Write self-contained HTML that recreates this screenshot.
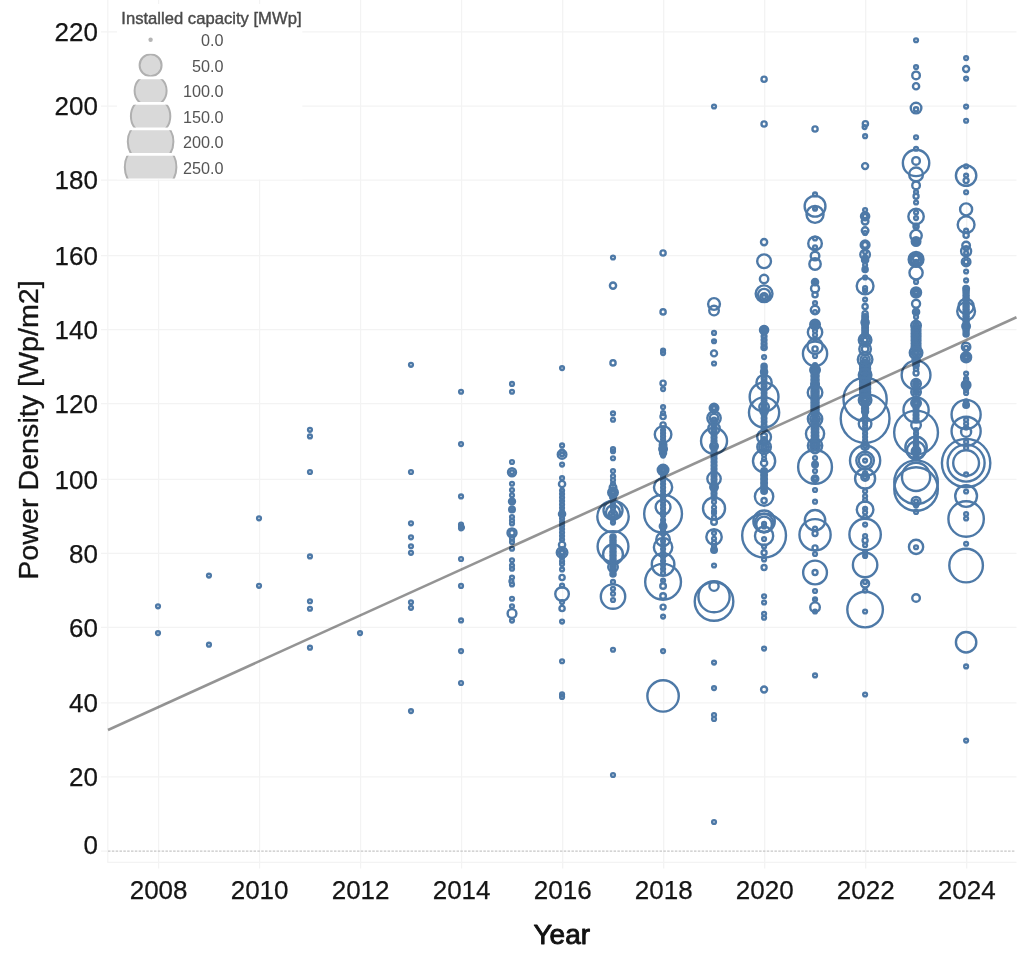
<!DOCTYPE html>
<html><head><meta charset="utf-8"><title>Power Density by Year</title>
<style>
html,body{margin:0;padding:0;background:#fff;}
body{width:1024px;height:961px;overflow:hidden;font-family:"Liberation Sans",sans-serif;}
svg{display:block}
.g{stroke:#f3f3f3;stroke-width:1.25;fill:none}
.tk{font-size:26px;fill:#151515;stroke:#151515;stroke-width:0.25px}
#marks circle{fill:none;stroke:#4e79a7;stroke-width:2.4}
.lg{font-size:16.2px;fill:#555}
</style></head><body>
<svg width="1024" height="961" viewBox="0 0 1024 961" font-family="Liberation Sans, sans-serif">
<rect width="1024" height="961" fill="#fff"/>
<g id="grid">
<line class="g" x1="101" x2="1016.5" y1="31.9" y2="31.9"/>
<line class="g" x1="101" x2="1016.5" y1="106.1" y2="106.1"/>
<line class="g" x1="101" x2="1016.5" y1="180.2" y2="180.2"/>
<line class="g" x1="101" x2="1016.5" y1="255.6" y2="255.6"/>
<line class="g" x1="101" x2="1016.5" y1="329.5" y2="329.5"/>
<line class="g" x1="101" x2="1016.5" y1="403.5" y2="403.5"/>
<line class="g" x1="101" x2="1016.5" y1="479.3" y2="479.3"/>
<line class="g" x1="101" x2="1016.5" y1="553.4" y2="553.4"/>
<line class="g" x1="101" x2="1016.5" y1="627.4" y2="627.4"/>
<line class="g" x1="101" x2="1016.5" y1="702.8" y2="702.8"/>
<line class="g" x1="101" x2="1016.5" y1="776.9" y2="776.9"/>
<line class="g" x1="158.6" x2="158.6" y1="0" y2="868.5"/>
<line class="g" x1="259.6" x2="259.6" y1="0" y2="868.5"/>
<line class="g" x1="360.6" x2="360.6" y1="0" y2="868.5"/>
<line class="g" x1="461.6" x2="461.6" y1="0" y2="868.5"/>
<line class="g" x1="562.7" x2="562.7" y1="0" y2="868.5"/>
<line class="g" x1="663.7" x2="663.7" y1="0" y2="868.5"/>
<line class="g" x1="764.7" x2="764.7" y1="0" y2="868.5"/>
<line class="g" x1="865.7" x2="865.7" y1="0" y2="868.5"/>
<line class="g" x1="966.7" x2="966.7" y1="0" y2="868.5"/>
<line class="g" x1="107.8" x2="107.8" y1="0" y2="862.3"/>
<line class="g" x1="107.3" x2="1016.5" y1="862.3" y2="862.3"/>
<line x1="101" x2="108" y1="851.1" y2="851.1" class="g"/>
<line x1="108" x2="1015" y1="851.1" y2="851.1" stroke="#c6c6c6" stroke-width="1.3" stroke-dasharray="2.5 1.33"/>
</g>
<g id="axes">
<text class="tk" x="98" y="41.1" text-anchor="end">220</text>
<text class="tk" x="98" y="115.3" text-anchor="end">200</text>
<text class="tk" x="98" y="189.4" text-anchor="end">180</text>
<text class="tk" x="98" y="264.8" text-anchor="end">160</text>
<text class="tk" x="98" y="338.7" text-anchor="end">140</text>
<text class="tk" x="98" y="412.7" text-anchor="end">120</text>
<text class="tk" x="98" y="488.5" text-anchor="end">100</text>
<text class="tk" x="98" y="562.6" text-anchor="end">80</text>
<text class="tk" x="98" y="636.6" text-anchor="end">60</text>
<text class="tk" x="98" y="712.0" text-anchor="end">40</text>
<text class="tk" x="98" y="786.1" text-anchor="end">20</text>
<text class="tk" x="98" y="854.3" text-anchor="end">0</text>
<text class="tk" x="158.6" y="898.6" text-anchor="middle">2008</text>
<text class="tk" x="259.6" y="898.6" text-anchor="middle">2010</text>
<text class="tk" x="360.6" y="898.6" text-anchor="middle">2012</text>
<text class="tk" x="461.6" y="898.6" text-anchor="middle">2014</text>
<text class="tk" x="562.7" y="898.6" text-anchor="middle">2016</text>
<text class="tk" x="663.7" y="898.6" text-anchor="middle">2018</text>
<text class="tk" x="764.7" y="898.6" text-anchor="middle">2020</text>
<text class="tk" x="865.7" y="898.6" text-anchor="middle">2022</text>
<text class="tk" x="966.7" y="898.6" text-anchor="middle">2024</text>
<text x="561.8" y="944" text-anchor="middle" font-size="28" fill="#111" stroke="#111" stroke-width="0.9" stroke-linejoin="round">Year</text>
<text transform="translate(38.2,430) rotate(-90)" text-anchor="middle" font-size="28.2" textLength="299.5" lengthAdjust="spacingAndGlyphs" fill="#151515" stroke="#151515" stroke-width="0.3">Power Density [Wp/m2]</text>
</g>
<defs><filter id="soft" x="0" y="0" width="1024" height="961" filterUnits="userSpaceOnUse"><feGaussianBlur stdDeviation="0.3"/></filter></defs>
<g id="marks" filter="url(#soft)">
<circle cx="158.0" cy="606.3" r="1.9"/>
<circle cx="158.0" cy="633.1" r="1.9"/>
<circle cx="208.96" cy="575.6" r="1.9"/>
<circle cx="208.96" cy="644.7" r="1.9"/>
<circle cx="259.01" cy="518.3" r="1.9"/>
<circle cx="259.01" cy="585.8" r="1.9"/>
<circle cx="309.97" cy="429.8" r="1.9"/>
<circle cx="309.97" cy="436.4" r="1.9"/>
<circle cx="309.97" cy="472.0" r="1.9"/>
<circle cx="309.97" cy="556.4" r="1.9"/>
<circle cx="309.97" cy="601.25" r="1.9"/>
<circle cx="309.97" cy="608.75" r="1.9"/>
<circle cx="309.97" cy="647.7" r="1.9"/>
<circle cx="360.03" cy="633.1" r="1.9"/>
<circle cx="410.99" cy="364.8" r="1.9"/>
<circle cx="410.99" cy="472.0" r="1.9"/>
<circle cx="410.99" cy="523.3" r="1.9"/>
<circle cx="410.99" cy="537.3" r="1.9"/>
<circle cx="410.99" cy="546.25" r="1.9"/>
<circle cx="410.99" cy="552.8" r="1.9"/>
<circle cx="410.99" cy="602.3" r="1.9"/>
<circle cx="410.99" cy="607.8" r="1.9"/>
<circle cx="410.99" cy="711.1" r="1.9"/>
<circle cx="461.04" cy="391.75" r="1.9"/>
<circle cx="461.04" cy="444.1" r="1.9"/>
<circle cx="461.04" cy="496.4" r="1.9"/>
<circle cx="461.04" cy="524.5" r="1.9"/>
<circle cx="461.04" cy="526.5" r="1.9"/>
<circle cx="461.94" cy="527.5" r="1.9"/>
<circle cx="461.04" cy="528.3" r="1.9"/>
<circle cx="461.04" cy="559" r="1.9"/>
<circle cx="461.04" cy="585.9" r="1.9"/>
<circle cx="461.04" cy="620.4" r="1.9"/>
<circle cx="461.04" cy="651.1" r="1.9"/>
<circle cx="461.04" cy="683" r="1.9"/>
<circle cx="512.0" cy="383.9" r="1.9"/>
<circle cx="512.0" cy="391.75" r="1.9"/>
<circle cx="512.0" cy="462" r="1.9"/>
<circle cx="512.0" cy="472.25" r="1.9"/>
<circle cx="512.0" cy="472.25" r="4.0"/>
<circle cx="512.0" cy="483.75" r="1.9"/>
<circle cx="512.0" cy="490" r="1.9"/>
<circle cx="512.0" cy="495.25" r="1.9"/>
<circle cx="512.0" cy="501.5" r="3.0"/>
<circle cx="512.0" cy="501.5" r="1.2"/>
<circle cx="512.0" cy="509.4" r="2.8"/>
<circle cx="512.0" cy="509.4" r="1"/>
<circle cx="512.0" cy="517" r="1.9"/>
<circle cx="512.0" cy="520.5" r="1.9"/>
<circle cx="512.0" cy="523.5" r="1.9"/>
<circle cx="512.0" cy="532.9" r="4.5"/>
<circle cx="512.0" cy="532.9" r="2.6"/>
<circle cx="512.0" cy="538.75" r="1.9"/>
<circle cx="512.0" cy="541.9" r="1.9"/>
<circle cx="512.0" cy="548.75" r="1.9"/>
<circle cx="512.0" cy="560.25" r="1.9"/>
<circle cx="512.0" cy="565.6" r="1.9"/>
<circle cx="512.0" cy="568.75" r="1.9"/>
<circle cx="512.0" cy="577.5" r="1.9"/>
<circle cx="511.4" cy="581.25" r="1.9"/>
<circle cx="512.0" cy="584.4" r="1.9"/>
<circle cx="512.0" cy="598.75" r="1.9"/>
<circle cx="512.0" cy="606.25" r="1.9"/>
<circle cx="512.0" cy="613.5" r="4.4"/>
<circle cx="512.0" cy="620.6" r="1.9"/>
<circle cx="562.06" cy="368.1" r="1.9"/>
<circle cx="562.06" cy="445.4" r="1.9"/>
<circle cx="562.06" cy="451.25" r="1.9"/>
<circle cx="562.06" cy="454.4" r="4.3"/>
<circle cx="562.06" cy="454.4" r="1.9"/>
<circle cx="562.06" cy="464.6" r="1.9"/>
<circle cx="562.06" cy="478.1" r="1.9"/>
<circle cx="562.06" cy="484" r="3.1"/>
<circle cx="562.06" cy="490.6" r="1.9"/>
<circle cx="562.06" cy="490.6" r="0.9"/>
<circle cx="562.06" cy="494.1" r="1.9"/>
<circle cx="562.06" cy="494.1" r="0.9"/>
<circle cx="562.06" cy="497.6" r="1.9"/>
<circle cx="562.06" cy="497.6" r="0.9"/>
<circle cx="562.06" cy="501.1" r="1.9"/>
<circle cx="562.06" cy="501.1" r="0.9"/>
<circle cx="562.06" cy="504.6" r="1.9"/>
<circle cx="562.06" cy="504.6" r="0.9"/>
<circle cx="562.06" cy="508.1" r="1.9"/>
<circle cx="562.06" cy="508.1" r="0.9"/>
<circle cx="562.06" cy="511.6" r="1.9"/>
<circle cx="562.06" cy="511.6" r="0.9"/>
<circle cx="562.06" cy="515.1" r="1.9"/>
<circle cx="562.06" cy="515.1" r="0.9"/>
<circle cx="562.06" cy="518.6" r="1.9"/>
<circle cx="562.06" cy="518.6" r="0.9"/>
<circle cx="562.06" cy="522.1" r="1.9"/>
<circle cx="562.06" cy="522.1" r="0.9"/>
<circle cx="562.06" cy="525.6" r="1.9"/>
<circle cx="562.06" cy="525.6" r="0.9"/>
<circle cx="562.06" cy="529.1" r="1.9"/>
<circle cx="562.06" cy="529.1" r="0.9"/>
<circle cx="562.06" cy="532.6" r="1.9"/>
<circle cx="562.06" cy="532.6" r="0.9"/>
<circle cx="562.06" cy="536.1" r="1.9"/>
<circle cx="562.06" cy="536.1" r="0.9"/>
<circle cx="562.06" cy="539.6" r="1.9"/>
<circle cx="562.06" cy="539.6" r="0.9"/>
<circle cx="562.06" cy="514" r="3.1"/>
<circle cx="562.06" cy="544.75" r="3.1"/>
<circle cx="562.06" cy="552.5" r="5.3"/>
<circle cx="562.06" cy="552.5" r="3.3"/>
<circle cx="562.06" cy="552.5" r="1.9"/>
<circle cx="562.06" cy="557.5" r="1.9"/>
<circle cx="562.06" cy="561.25" r="1.9"/>
<circle cx="562.06" cy="564" r="1.9"/>
<circle cx="562.06" cy="569.4" r="1.9"/>
<circle cx="562.06" cy="577.5" r="2.6"/>
<circle cx="562.06" cy="585.6" r="1.9"/>
<circle cx="562.06" cy="594" r="6.8"/>
<circle cx="562.06" cy="602" r="1.9"/>
<circle cx="562.06" cy="608.5" r="2.6"/>
<circle cx="562.06" cy="621.6" r="1.9"/>
<circle cx="562.06" cy="661.25" r="1.9"/>
<circle cx="562.06" cy="694.4" r="1.9"/>
<circle cx="562.06" cy="696.9" r="1.9"/>
<circle cx="613.01" cy="257.5" r="1.9"/>
<circle cx="613.01" cy="285.6" r="3.1"/>
<circle cx="613.01" cy="362.9" r="2.6"/>
<circle cx="613.01" cy="413.4" r="1.9"/>
<circle cx="613.01" cy="419.75" r="1.9"/>
<circle cx="613.01" cy="449" r="1.9"/>
<circle cx="613.01" cy="451.25" r="1.9"/>
<circle cx="613.01" cy="458.25" r="1.9"/>
<circle cx="613.01" cy="471" r="1.9"/>
<circle cx="613.01" cy="476.25" r="1.9"/>
<circle cx="613.01" cy="480" r="1.9"/>
<circle cx="613.01" cy="483.75" r="1.9"/>
<circle cx="613.01" cy="487.5" r="3.3"/>
<circle cx="613.01" cy="492.5" r="4.8"/>
<circle cx="613.01" cy="492.5" r="3.1"/>
<circle cx="613.01" cy="492.5" r="1.5"/>
<circle cx="613.01" cy="497" r="2.8"/>
<circle cx="613.01" cy="516.6" r="15.7"/>
<circle cx="613.01" cy="510.3" r="9.5"/>
<circle cx="613.01" cy="512.3" r="7.0"/>
<circle cx="613.01" cy="514.5" r="4.2"/>
<circle cx="613.01" cy="501" r="1.9"/>
<circle cx="613.01" cy="501" r="0.9"/>
<circle cx="613.01" cy="504.6" r="1.9"/>
<circle cx="613.01" cy="504.6" r="0.9"/>
<circle cx="613.01" cy="508.2" r="1.9"/>
<circle cx="613.01" cy="508.2" r="0.9"/>
<circle cx="613.01" cy="511.8" r="1.9"/>
<circle cx="613.01" cy="511.8" r="0.9"/>
<circle cx="613.01" cy="515.4" r="1.9"/>
<circle cx="613.01" cy="515.4" r="0.9"/>
<circle cx="613.01" cy="519.0" r="1.9"/>
<circle cx="613.01" cy="519.0" r="0.9"/>
<circle cx="613.01" cy="522.6" r="1.9"/>
<circle cx="613.01" cy="522.6" r="0.9"/>
<circle cx="613.01" cy="546.5" r="15.4"/>
<circle cx="613.01" cy="554.4" r="9.9"/>
<circle cx="613.01" cy="566.9" r="4.8"/>
<circle cx="613.01" cy="537" r="2.6"/>
<circle cx="613.01" cy="537" r="1.3"/>
<circle cx="613.01" cy="540.7" r="2.6"/>
<circle cx="613.01" cy="540.7" r="1.3"/>
<circle cx="613.01" cy="544.4" r="2.6"/>
<circle cx="613.01" cy="544.4" r="1.3"/>
<circle cx="613.01" cy="548.1" r="2.6"/>
<circle cx="613.01" cy="548.1" r="1.3"/>
<circle cx="613.01" cy="551.8" r="2.6"/>
<circle cx="613.01" cy="551.8" r="1.3"/>
<circle cx="613.01" cy="555.5" r="2.6"/>
<circle cx="613.01" cy="555.5" r="1.3"/>
<circle cx="613.01" cy="559.2" r="2.6"/>
<circle cx="613.01" cy="559.2" r="1.3"/>
<circle cx="613.01" cy="562.9" r="2.6"/>
<circle cx="613.01" cy="562.9" r="1.3"/>
<circle cx="613.01" cy="566.6" r="2.6"/>
<circle cx="613.01" cy="566.6" r="1.3"/>
<circle cx="613.01" cy="570.3" r="2.6"/>
<circle cx="613.01" cy="570.3" r="1.3"/>
<circle cx="613.01" cy="574.0" r="2.6"/>
<circle cx="613.01" cy="574.0" r="1.3"/>
<circle cx="613.01" cy="581.9" r="1.9"/>
<circle cx="613.01" cy="596.6" r="12.2"/>
<circle cx="613.01" cy="588.75" r="1.9"/>
<circle cx="613.01" cy="593.75" r="1.9"/>
<circle cx="613.01" cy="600" r="1.9"/>
<circle cx="613.01" cy="649.75" r="1.9"/>
<circle cx="613.01" cy="775" r="1.9"/>
<circle cx="663.07" cy="253" r="2.6"/>
<circle cx="663.07" cy="311.9" r="2.6"/>
<circle cx="663.07" cy="350.6" r="1.9"/>
<circle cx="663.07" cy="353.1" r="1.9"/>
<circle cx="663.07" cy="383.25" r="2.6"/>
<circle cx="663.07" cy="389.1" r="1.9"/>
<circle cx="663.07" cy="407.1" r="1.9"/>
<circle cx="663.07" cy="413.1" r="1.9"/>
<circle cx="663.07" cy="416.5" r="2.6"/>
<circle cx="663.07" cy="425" r="2.6"/>
<circle cx="663.07" cy="434.4" r="8.3"/>
<circle cx="663.07" cy="430" r="1.9"/>
<circle cx="663.07" cy="430" r="0.9"/>
<circle cx="663.07" cy="433.2" r="1.9"/>
<circle cx="663.07" cy="433.2" r="0.9"/>
<circle cx="663.07" cy="436.4" r="1.9"/>
<circle cx="663.07" cy="436.4" r="0.9"/>
<circle cx="663.07" cy="439.6" r="1.9"/>
<circle cx="663.07" cy="439.6" r="0.9"/>
<circle cx="663.07" cy="442.8" r="1.9"/>
<circle cx="663.07" cy="442.8" r="0.9"/>
<circle cx="663.07" cy="446.0" r="1.9"/>
<circle cx="663.07" cy="446.0" r="0.9"/>
<circle cx="663.07" cy="449.2" r="1.9"/>
<circle cx="663.07" cy="449.2" r="0.9"/>
<circle cx="663.07" cy="452.4" r="1.9"/>
<circle cx="663.07" cy="452.4" r="0.9"/>
<circle cx="663.07" cy="455.6" r="1.9"/>
<circle cx="663.07" cy="455.6" r="0.9"/>
<circle cx="663.07" cy="445" r="3.3"/>
<circle cx="663.07" cy="449" r="3.8"/>
<circle cx="663.07" cy="453" r="3.0"/>
<circle cx="663.07" cy="470" r="5.3"/>
<circle cx="663.07" cy="470" r="3.8"/>
<circle cx="663.07" cy="470" r="2.3"/>
<circle cx="663.07" cy="470" r="1"/>
<circle cx="663.07" cy="487.25" r="9.1"/>
<circle cx="663.07" cy="513.75" r="18.9"/>
<circle cx="663.07" cy="507.1" r="7.4"/>
<circle cx="663.07" cy="477" r="1.9"/>
<circle cx="663.07" cy="477" r="0.9"/>
<circle cx="663.07" cy="480.5" r="1.9"/>
<circle cx="663.07" cy="480.5" r="0.9"/>
<circle cx="663.07" cy="484.0" r="1.9"/>
<circle cx="663.07" cy="484.0" r="0.9"/>
<circle cx="663.07" cy="487.5" r="1.9"/>
<circle cx="663.07" cy="487.5" r="0.9"/>
<circle cx="663.07" cy="491.0" r="1.9"/>
<circle cx="663.07" cy="491.0" r="0.9"/>
<circle cx="663.07" cy="494.5" r="1.9"/>
<circle cx="663.07" cy="494.5" r="0.9"/>
<circle cx="663.07" cy="498.0" r="1.9"/>
<circle cx="663.07" cy="498.0" r="0.9"/>
<circle cx="663.07" cy="501.5" r="1.9"/>
<circle cx="663.07" cy="501.5" r="0.9"/>
<circle cx="663.07" cy="505.0" r="1.9"/>
<circle cx="663.07" cy="505.0" r="0.9"/>
<circle cx="663.07" cy="508.5" r="1.9"/>
<circle cx="663.07" cy="508.5" r="0.9"/>
<circle cx="663.07" cy="512.0" r="1.9"/>
<circle cx="663.07" cy="512.0" r="0.9"/>
<circle cx="663.07" cy="515.5" r="1.9"/>
<circle cx="663.07" cy="515.5" r="0.9"/>
<circle cx="663.07" cy="526.25" r="3.3"/>
<circle cx="663.07" cy="520" r="1.9"/>
<circle cx="663.07" cy="520" r="0.9"/>
<circle cx="663.07" cy="523.5" r="1.9"/>
<circle cx="663.07" cy="523.5" r="0.9"/>
<circle cx="663.07" cy="527.0" r="1.9"/>
<circle cx="663.07" cy="527.0" r="0.9"/>
<circle cx="663.07" cy="530.5" r="1.9"/>
<circle cx="663.07" cy="530.5" r="0.9"/>
<circle cx="663.07" cy="534.0" r="1.9"/>
<circle cx="663.07" cy="534.0" r="0.9"/>
<circle cx="663.07" cy="539.4" r="6.8"/>
<circle cx="663.07" cy="547.25" r="9.2"/>
<circle cx="663.07" cy="564.4" r="11.3"/>
<circle cx="663.07" cy="581.8" r="17.9"/>
<circle cx="663.07" cy="541" r="1.9"/>
<circle cx="663.07" cy="541" r="0.9"/>
<circle cx="663.07" cy="545" r="1.9"/>
<circle cx="663.07" cy="545" r="0.9"/>
<circle cx="663.07" cy="549" r="1.9"/>
<circle cx="663.07" cy="549" r="0.9"/>
<circle cx="663.07" cy="553" r="1.9"/>
<circle cx="663.07" cy="553" r="0.9"/>
<circle cx="663.07" cy="557" r="1.9"/>
<circle cx="663.07" cy="557" r="0.9"/>
<circle cx="663.07" cy="561" r="1.9"/>
<circle cx="663.07" cy="561" r="0.9"/>
<circle cx="663.07" cy="565" r="1.9"/>
<circle cx="663.07" cy="565" r="0.9"/>
<circle cx="663.07" cy="569" r="1.9"/>
<circle cx="663.07" cy="569" r="0.9"/>
<circle cx="663.07" cy="573.1" r="1.9"/>
<circle cx="663.07" cy="580.6" r="1.9"/>
<circle cx="663.07" cy="580.6" r="0.8"/>
<circle cx="663.07" cy="586" r="2.8"/>
<circle cx="663.07" cy="596" r="2.8"/>
<circle cx="663.07" cy="607.1" r="2.5"/>
<circle cx="663.07" cy="616.6" r="1.9"/>
<circle cx="663.07" cy="651.1" r="1.9"/>
<circle cx="663.07" cy="695.9" r="15.7"/>
<circle cx="714.03" cy="106.5" r="1.9"/>
<circle cx="714.03" cy="304" r="5.9"/>
<circle cx="714.03" cy="310.6" r="4.8"/>
<circle cx="714.03" cy="332.9" r="1.9"/>
<circle cx="714.03" cy="341.25" r="1.9"/>
<circle cx="714.03" cy="341.25" r="0.8"/>
<circle cx="714.03" cy="353.4" r="3.0"/>
<circle cx="714.03" cy="363.5" r="1.9"/>
<circle cx="714.03" cy="408.1" r="4.3"/>
<circle cx="714.03" cy="408.1" r="2.8"/>
<circle cx="714.03" cy="408.1" r="1.9"/>
<circle cx="714.03" cy="418.1" r="6.7"/>
<circle cx="714.03" cy="418.1" r="4.3"/>
<circle cx="714.03" cy="428.5" r="5.7"/>
<circle cx="714.03" cy="441" r="13.0"/>
<circle cx="714.03" cy="420" r="2.4"/>
<circle cx="714.03" cy="420" r="0.9"/>
<circle cx="714.03" cy="423.5" r="2.4"/>
<circle cx="714.03" cy="423.5" r="0.9"/>
<circle cx="714.03" cy="427.0" r="2.4"/>
<circle cx="714.03" cy="427.0" r="0.9"/>
<circle cx="714.03" cy="430.5" r="2.4"/>
<circle cx="714.03" cy="430.5" r="0.9"/>
<circle cx="714.03" cy="434.0" r="2.4"/>
<circle cx="714.03" cy="434.0" r="0.9"/>
<circle cx="714.03" cy="437.5" r="2.4"/>
<circle cx="714.03" cy="437.5" r="0.9"/>
<circle cx="714.03" cy="441.0" r="2.4"/>
<circle cx="714.03" cy="441.0" r="0.9"/>
<circle cx="714.03" cy="444.5" r="2.4"/>
<circle cx="714.03" cy="444.5" r="0.9"/>
<circle cx="714.03" cy="448.0" r="2.4"/>
<circle cx="714.03" cy="448.0" r="0.9"/>
<circle cx="714.03" cy="451.5" r="2.4"/>
<circle cx="714.03" cy="451.5" r="0.9"/>
<circle cx="714.03" cy="455.0" r="2.4"/>
<circle cx="714.03" cy="455.0" r="0.9"/>
<circle cx="714.03" cy="458.5" r="2.4"/>
<circle cx="714.03" cy="458.5" r="0.9"/>
<circle cx="714.03" cy="462.0" r="2.4"/>
<circle cx="714.03" cy="462.0" r="0.9"/>
<circle cx="714.03" cy="465.5" r="2.4"/>
<circle cx="714.03" cy="465.5" r="0.9"/>
<circle cx="714.03" cy="469.0" r="2.4"/>
<circle cx="714.03" cy="469.0" r="0.9"/>
<circle cx="714.03" cy="472.5" r="2.4"/>
<circle cx="714.03" cy="472.5" r="0.9"/>
<circle cx="714.03" cy="476.0" r="2.4"/>
<circle cx="714.03" cy="476.0" r="0.9"/>
<circle cx="714.03" cy="479.5" r="2.4"/>
<circle cx="714.03" cy="479.5" r="0.9"/>
<circle cx="714.03" cy="483.0" r="2.4"/>
<circle cx="714.03" cy="483.0" r="0.9"/>
<circle cx="714.03" cy="486.5" r="2.4"/>
<circle cx="714.03" cy="486.5" r="0.9"/>
<circle cx="714.03" cy="490.0" r="2.4"/>
<circle cx="714.03" cy="490.0" r="0.9"/>
<circle cx="714.03" cy="493.5" r="2.4"/>
<circle cx="714.03" cy="493.5" r="0.9"/>
<circle cx="714.03" cy="497.0" r="2.4"/>
<circle cx="714.03" cy="497.0" r="0.9"/>
<circle cx="714.03" cy="446.25" r="3.8"/>
<circle cx="714.03" cy="478.75" r="6.7"/>
<circle cx="714.03" cy="487" r="3.8"/>
<circle cx="714.03" cy="508.5" r="11.0"/>
<circle cx="714.03" cy="501.9" r="1.9"/>
<circle cx="714.03" cy="507.5" r="1.9"/>
<circle cx="714.03" cy="511.25" r="1.9"/>
<circle cx="714.03" cy="513" r="1.9"/>
<circle cx="714.03" cy="517.25" r="1.9"/>
<circle cx="714.03" cy="521.9" r="2.8"/>
<circle cx="714.03" cy="536.9" r="7.7"/>
<circle cx="714.03" cy="533.1" r="1.9"/>
<circle cx="714.03" cy="538.75" r="1.9"/>
<circle cx="714.03" cy="542.5" r="1.9"/>
<circle cx="714.03" cy="546.25" r="1.9"/>
<circle cx="714.03" cy="550" r="2.8"/>
<circle cx="714.03" cy="550" r="1"/>
<circle cx="714.03" cy="565.5" r="1.9"/>
<circle cx="714.03" cy="601.5" r="19.3"/>
<circle cx="714.03" cy="596.7" r="15.6"/>
<circle cx="714.03" cy="586.25" r="4.6"/>
<circle cx="714.03" cy="662.6" r="1.9"/>
<circle cx="714.03" cy="688.1" r="1.9"/>
<circle cx="714.03" cy="715" r="1.9"/>
<circle cx="714.03" cy="719" r="1.9"/>
<circle cx="714.03" cy="822" r="1.9"/>
<circle cx="764.08" cy="79.25" r="2.6"/>
<circle cx="764.08" cy="124" r="2.6"/>
<circle cx="764.08" cy="242.1" r="3.1"/>
<circle cx="764.08" cy="261.25" r="6.9"/>
<circle cx="764.08" cy="279" r="4.2"/>
<circle cx="764.08" cy="293.75" r="8.4"/>
<circle cx="764.08" cy="295" r="6.1"/>
<circle cx="764.08" cy="297" r="3.8"/>
<circle cx="764.08" cy="297" r="1.9"/>
<circle cx="764.08" cy="330" r="4.1"/>
<circle cx="764.08" cy="330" r="2.0"/>
<circle cx="764.08" cy="328" r="1.9"/>
<circle cx="764.08" cy="331.5" r="1.9"/>
<circle cx="764.08" cy="336.25" r="2.4"/>
<circle cx="764.08" cy="340" r="2.4"/>
<circle cx="764.08" cy="343.75" r="2.4"/>
<circle cx="764.08" cy="347.5" r="2.6"/>
<circle cx="764.08" cy="336.25" r="0.8"/>
<circle cx="764.08" cy="340" r="0.8"/>
<circle cx="764.08" cy="343.75" r="0.8"/>
<circle cx="764.08" cy="347.5" r="1"/>
<circle cx="764.08" cy="357.1" r="1.9"/>
<circle cx="764.08" cy="366.25" r="2.6"/>
<circle cx="764.08" cy="366.25" r="1"/>
<circle cx="764.08" cy="369" r="2.4"/>
<circle cx="764.08" cy="371.9" r="3.1"/>
<circle cx="764.08" cy="371.9" r="1.3"/>
<circle cx="764.08" cy="382.5" r="7.6"/>
<circle cx="764.08" cy="375" r="2.3"/>
<circle cx="764.08" cy="375" r="0.9"/>
<circle cx="764.08" cy="378.6" r="2.3"/>
<circle cx="764.08" cy="378.6" r="0.9"/>
<circle cx="764.08" cy="382.2" r="2.3"/>
<circle cx="764.08" cy="382.2" r="0.9"/>
<circle cx="764.08" cy="385.8" r="2.3"/>
<circle cx="764.08" cy="385.8" r="0.9"/>
<circle cx="764.08" cy="389.4" r="2.3"/>
<circle cx="764.08" cy="389.4" r="0.9"/>
<circle cx="764.08" cy="393.0" r="2.3"/>
<circle cx="764.08" cy="393.0" r="0.9"/>
<circle cx="764.08" cy="396.6" r="2.3"/>
<circle cx="764.08" cy="396.6" r="0.9"/>
<circle cx="764.08" cy="400.2" r="2.3"/>
<circle cx="764.08" cy="400.2" r="0.9"/>
<circle cx="764.08" cy="403.8" r="2.3"/>
<circle cx="764.08" cy="403.8" r="0.9"/>
<circle cx="764.08" cy="407.4" r="2.3"/>
<circle cx="764.08" cy="407.4" r="0.9"/>
<circle cx="764.08" cy="411.0" r="2.3"/>
<circle cx="764.08" cy="411.0" r="0.9"/>
<circle cx="764.08" cy="414.6" r="2.3"/>
<circle cx="764.08" cy="414.6" r="0.9"/>
<circle cx="764.08" cy="418.2" r="2.3"/>
<circle cx="764.08" cy="418.2" r="0.9"/>
<circle cx="764.08" cy="421.8" r="2.3"/>
<circle cx="764.08" cy="421.8" r="0.9"/>
<circle cx="764.08" cy="425.4" r="2.3"/>
<circle cx="764.08" cy="425.4" r="0.9"/>
<circle cx="764.08" cy="429.0" r="2.3"/>
<circle cx="764.08" cy="429.0" r="0.9"/>
<circle cx="764.08" cy="396.9" r="14.4"/>
<circle cx="764.08" cy="412.5" r="15.1"/>
<circle cx="764.08" cy="407" r="4.8"/>
<circle cx="764.08" cy="411" r="3.8"/>
<circle cx="764.08" cy="437" r="6.9"/>
<circle cx="764.08" cy="447" r="6.8"/>
<circle cx="764.08" cy="447" r="4.8"/>
<circle cx="764.08" cy="447" r="2.8"/>
<circle cx="764.08" cy="447" r="1"/>
<circle cx="764.08" cy="436" r="2.8"/>
<circle cx="764.08" cy="440" r="2.8"/>
<circle cx="764.08" cy="461" r="11.1"/>
<circle cx="764.08" cy="455" r="1.9"/>
<circle cx="764.08" cy="459" r="1.9"/>
<circle cx="764.08" cy="463" r="3.1"/>
<circle cx="764.08" cy="471" r="2.8"/>
<circle cx="764.08" cy="471" r="1.3"/>
<circle cx="764.08" cy="475" r="2.8"/>
<circle cx="764.08" cy="475" r="1.3"/>
<circle cx="764.08" cy="479" r="2.8"/>
<circle cx="764.08" cy="479" r="1.3"/>
<circle cx="764.08" cy="483" r="2.8"/>
<circle cx="764.08" cy="483" r="1.3"/>
<circle cx="764.08" cy="487" r="2.8"/>
<circle cx="764.08" cy="487" r="1.3"/>
<circle cx="764.08" cy="491" r="2.8"/>
<circle cx="764.08" cy="491" r="1.3"/>
<circle cx="764.08" cy="496.5" r="9.2"/>
<circle cx="764.08" cy="500.6" r="2.6"/>
<circle cx="764.08" cy="535.6" r="21.9"/>
<circle cx="764.08" cy="521.25" r="10.7"/>
<circle cx="764.08" cy="523.1" r="9.3"/>
<circle cx="764.08" cy="524.4" r="7.8"/>
<circle cx="764.08" cy="535.9" r="9.1"/>
<circle cx="764.08" cy="523.75" r="1.9"/>
<circle cx="764.08" cy="523.75" r="0.8"/>
<circle cx="764.08" cy="526.5" r="1.9"/>
<circle cx="764.08" cy="539" r="1.9"/>
<circle cx="764.08" cy="546.5" r="1.9"/>
<circle cx="764.08" cy="552.75" r="2.5"/>
<circle cx="764.08" cy="559.4" r="1.9"/>
<circle cx="764.08" cy="567.5" r="2.5"/>
<circle cx="764.08" cy="596.25" r="1.9"/>
<circle cx="764.08" cy="602.5" r="1.9"/>
<circle cx="764.08" cy="613.75" r="1.9"/>
<circle cx="764.08" cy="617.75" r="1.9"/>
<circle cx="764.08" cy="648.6" r="1.9"/>
<circle cx="764.08" cy="689.5" r="3.0"/>
<circle cx="815.04" cy="129" r="2.6"/>
<circle cx="815.04" cy="194.4" r="1.9"/>
<circle cx="815.04" cy="206.25" r="10.4"/>
<circle cx="815.04" cy="214.4" r="8.5"/>
<circle cx="815.04" cy="208.75" r="1.9"/>
<circle cx="815.04" cy="208.75" r="0.8"/>
<circle cx="815.04" cy="243.4" r="6.8"/>
<circle cx="815.04" cy="238.5" r="1.9"/>
<circle cx="815.04" cy="247.25" r="1.9"/>
<circle cx="815.04" cy="256" r="4.3"/>
<circle cx="815.04" cy="264" r="5.7"/>
<circle cx="815.04" cy="282.1" r="3.1"/>
<circle cx="815.04" cy="282.1" r="1.3"/>
<circle cx="815.04" cy="288.5" r="4.0"/>
<circle cx="815.04" cy="294.75" r="2.6"/>
<circle cx="815.04" cy="303.1" r="1.9"/>
<circle cx="815.04" cy="310" r="4.2"/>
<circle cx="815.04" cy="312" r="1.9"/>
<circle cx="815.04" cy="324.4" r="4.8"/>
<circle cx="815.04" cy="324.4" r="3.3"/>
<circle cx="815.04" cy="324.4" r="1.6"/>
<circle cx="815.04" cy="332.25" r="7.2"/>
<circle cx="815.04" cy="327.5" r="1.9"/>
<circle cx="815.04" cy="331" r="1.9"/>
<circle cx="815.04" cy="335" r="1.9"/>
<circle cx="815.04" cy="339" r="1.9"/>
<circle cx="815.04" cy="346.25" r="7.6"/>
<circle cx="815.04" cy="353.75" r="12.1"/>
<circle cx="815.04" cy="349" r="2.6"/>
<circle cx="815.04" cy="356" r="1.9"/>
<circle cx="815.04" cy="370" r="4.8"/>
<circle cx="815.04" cy="370" r="3.3"/>
<circle cx="815.04" cy="370" r="1.6"/>
<circle cx="815.04" cy="365" r="1.9"/>
<circle cx="815.04" cy="368" r="2.8"/>
<circle cx="815.04" cy="372" r="3.3"/>
<circle cx="815.04" cy="376" r="3.6"/>
<circle cx="815.04" cy="380" r="3.6"/>
<circle cx="815.04" cy="384" r="3.8"/>
<circle cx="815.04" cy="376" r="1.6"/>
<circle cx="815.04" cy="380" r="1.6"/>
<circle cx="815.04" cy="384" r="1.6"/>
<circle cx="815.04" cy="372" r="1.4"/>
<circle cx="815.04" cy="392.5" r="7.3"/>
<circle cx="815.04" cy="385" r="3.6"/>
<circle cx="815.04" cy="388.5" r="3.6"/>
<circle cx="815.04" cy="392.0" r="3.6"/>
<circle cx="815.04" cy="395.5" r="3.6"/>
<circle cx="815.04" cy="399.0" r="3.6"/>
<circle cx="815.04" cy="402.5" r="3.6"/>
<circle cx="815.04" cy="406.0" r="3.6"/>
<circle cx="815.04" cy="409.5" r="3.6"/>
<circle cx="815.04" cy="413.0" r="3.6"/>
<circle cx="815.04" cy="385" r="1.8"/>
<circle cx="815.04" cy="385" r="0.9"/>
<circle cx="815.04" cy="388.5" r="1.8"/>
<circle cx="815.04" cy="388.5" r="0.9"/>
<circle cx="815.04" cy="392.0" r="1.8"/>
<circle cx="815.04" cy="392.0" r="0.9"/>
<circle cx="815.04" cy="395.5" r="1.8"/>
<circle cx="815.04" cy="395.5" r="0.9"/>
<circle cx="815.04" cy="399.0" r="1.8"/>
<circle cx="815.04" cy="399.0" r="0.9"/>
<circle cx="815.04" cy="402.5" r="1.8"/>
<circle cx="815.04" cy="402.5" r="0.9"/>
<circle cx="815.04" cy="406.0" r="1.8"/>
<circle cx="815.04" cy="406.0" r="0.9"/>
<circle cx="815.04" cy="409.5" r="1.8"/>
<circle cx="815.04" cy="409.5" r="0.9"/>
<circle cx="815.04" cy="413.0" r="1.8"/>
<circle cx="815.04" cy="413.0" r="0.9"/>
<circle cx="815.04" cy="416.5" r="1.8"/>
<circle cx="815.04" cy="416.5" r="0.9"/>
<circle cx="815.04" cy="420.0" r="1.8"/>
<circle cx="815.04" cy="420.0" r="0.9"/>
<circle cx="815.04" cy="423.5" r="1.8"/>
<circle cx="815.04" cy="423.5" r="0.9"/>
<circle cx="815.04" cy="427.0" r="1.8"/>
<circle cx="815.04" cy="427.0" r="0.9"/>
<circle cx="815.04" cy="430.5" r="1.8"/>
<circle cx="815.04" cy="430.5" r="0.9"/>
<circle cx="815.04" cy="434.0" r="1.8"/>
<circle cx="815.04" cy="434.0" r="0.9"/>
<circle cx="815.04" cy="437.5" r="1.8"/>
<circle cx="815.04" cy="437.5" r="0.9"/>
<circle cx="815.04" cy="441.0" r="1.8"/>
<circle cx="815.04" cy="441.0" r="0.9"/>
<circle cx="815.04" cy="444.5" r="1.8"/>
<circle cx="815.04" cy="444.5" r="0.9"/>
<circle cx="815.04" cy="448.0" r="1.8"/>
<circle cx="815.04" cy="448.0" r="0.9"/>
<circle cx="815.04" cy="419" r="7.2"/>
<circle cx="815.04" cy="419" r="4.8"/>
<circle cx="815.04" cy="419" r="2.8"/>
<circle cx="815.04" cy="433.75" r="9.1"/>
<circle cx="815.04" cy="422" r="3.3"/>
<circle cx="815.04" cy="425.5" r="3.3"/>
<circle cx="815.04" cy="429.0" r="3.3"/>
<circle cx="815.04" cy="432.5" r="3.3"/>
<circle cx="815.04" cy="436.0" r="3.3"/>
<circle cx="815.04" cy="439.5" r="3.3"/>
<circle cx="815.04" cy="443.0" r="3.3"/>
<circle cx="815.04" cy="446.5" r="3.3"/>
<circle cx="815.04" cy="450.0" r="3.3"/>
<circle cx="815.04" cy="445.6" r="7.2"/>
<circle cx="815.04" cy="445.6" r="4.8"/>
<circle cx="815.04" cy="466.9" r="16.9"/>
<circle cx="815.04" cy="458" r="1.9"/>
<circle cx="815.04" cy="464.4" r="2.8"/>
<circle cx="815.04" cy="464.4" r="1.2"/>
<circle cx="815.04" cy="471" r="1.9"/>
<circle cx="815.04" cy="478.75" r="3.3"/>
<circle cx="815.04" cy="478.75" r="1.6"/>
<circle cx="815.04" cy="490" r="1.9"/>
<circle cx="815.04" cy="501.7" r="1.9"/>
<circle cx="815.04" cy="520.25" r="10.2"/>
<circle cx="815.04" cy="534.75" r="15.6"/>
<circle cx="815.04" cy="528.5" r="1.9"/>
<circle cx="815.04" cy="533.5" r="2.5"/>
<circle cx="815.04" cy="547.9" r="2.5"/>
<circle cx="815.04" cy="554" r="1.9"/>
<circle cx="815.04" cy="572.5" r="11.9"/>
<circle cx="815.04" cy="572.5" r="2.5"/>
<circle cx="815.04" cy="591" r="1.9"/>
<circle cx="815.04" cy="599.4" r="1.9"/>
<circle cx="815.04" cy="599.4" r="0.8"/>
<circle cx="815.04" cy="607.2" r="4.8"/>
<circle cx="815.04" cy="611.5" r="1.9"/>
<circle cx="815.04" cy="611.5" r="0.8"/>
<circle cx="815.04" cy="675.4" r="1.9"/>
<circle cx="865.4" cy="123.75" r="2.6"/>
<circle cx="864.6" cy="127.1" r="1.9"/>
<circle cx="865.1" cy="136.2" r="1.9"/>
<circle cx="865.1" cy="166.1" r="3.0"/>
<circle cx="865.1" cy="210" r="1.9"/>
<circle cx="865.1" cy="216.25" r="4.1"/>
<circle cx="865.1" cy="216.25" r="2.3"/>
<circle cx="865.1" cy="221.25" r="3.3"/>
<circle cx="865.1" cy="230.6" r="3.3"/>
<circle cx="865.1" cy="233" r="1.9"/>
<circle cx="865.1" cy="244.9" r="4.4"/>
<circle cx="865.1" cy="244.9" r="2.8"/>
<circle cx="865.1" cy="254.6" r="4.8"/>
<circle cx="865.1" cy="252" r="1.9"/>
<circle cx="865.1" cy="257" r="1.9"/>
<circle cx="865.1" cy="260" r="3.1"/>
<circle cx="865.1" cy="260" r="1.3"/>
<circle cx="865.1" cy="265" r="1.9"/>
<circle cx="865.1" cy="269.4" r="2.6"/>
<circle cx="865.1" cy="269.4" r="1"/>
<circle cx="865.1" cy="277.5" r="1.9"/>
<circle cx="865.1" cy="286" r="8.4"/>
<circle cx="865.1" cy="288" r="1.9"/>
<circle cx="865.1" cy="290.6" r="1.9"/>
<circle cx="865.1" cy="290.6" r="0.8"/>
<circle cx="865.1" cy="299.6" r="1.9"/>
<circle cx="865.1" cy="306.6" r="2.6"/>
<circle cx="865.1" cy="313.75" r="2.6"/>
<circle cx="865.1" cy="317" r="2.8"/>
<circle cx="865.1" cy="317" r="1.3"/>
<circle cx="865.1" cy="320.4" r="2.8"/>
<circle cx="865.1" cy="320.4" r="1.3"/>
<circle cx="865.1" cy="323.8" r="2.8"/>
<circle cx="865.1" cy="323.8" r="1.3"/>
<circle cx="865.1" cy="327.2" r="2.8"/>
<circle cx="865.1" cy="327.2" r="1.3"/>
<circle cx="865.1" cy="330.6" r="2.8"/>
<circle cx="865.1" cy="330.6" r="1.3"/>
<circle cx="865.1" cy="334.0" r="2.8"/>
<circle cx="865.1" cy="334.0" r="1.3"/>
<circle cx="865.1" cy="317" r="1.2"/>
<circle cx="865.1" cy="320.4" r="1.2"/>
<circle cx="865.1" cy="323.8" r="1.2"/>
<circle cx="865.1" cy="327.2" r="1.2"/>
<circle cx="865.1" cy="330.6" r="1.2"/>
<circle cx="865.1" cy="334.0" r="1.2"/>
<circle cx="865.1" cy="365" r="5.0"/>
<circle cx="865.1" cy="368.4" r="5.0"/>
<circle cx="865.1" cy="371.8" r="5.0"/>
<circle cx="865.1" cy="375.2" r="5.0"/>
<circle cx="865.1" cy="378.6" r="5.0"/>
<circle cx="865.1" cy="382.0" r="5.0"/>
<circle cx="865.1" cy="385.4" r="5.0"/>
<circle cx="865.1" cy="388.8" r="5.0"/>
<circle cx="865.1" cy="392.2" r="5.0"/>
<circle cx="865.1" cy="395.6" r="5.0"/>
<circle cx="865.1" cy="365" r="2.8"/>
<circle cx="865.1" cy="365" r="1.3"/>
<circle cx="865.1" cy="368.4" r="2.8"/>
<circle cx="865.1" cy="368.4" r="1.3"/>
<circle cx="865.1" cy="371.8" r="2.8"/>
<circle cx="865.1" cy="371.8" r="1.3"/>
<circle cx="865.1" cy="375.2" r="2.8"/>
<circle cx="865.1" cy="375.2" r="1.3"/>
<circle cx="865.1" cy="378.6" r="2.8"/>
<circle cx="865.1" cy="378.6" r="1.3"/>
<circle cx="865.1" cy="382.0" r="2.8"/>
<circle cx="865.1" cy="382.0" r="1.3"/>
<circle cx="865.1" cy="385.4" r="2.8"/>
<circle cx="865.1" cy="385.4" r="1.3"/>
<circle cx="865.1" cy="388.8" r="2.8"/>
<circle cx="865.1" cy="388.8" r="1.3"/>
<circle cx="865.1" cy="392.2" r="2.8"/>
<circle cx="865.1" cy="392.2" r="1.3"/>
<circle cx="865.1" cy="395.6" r="2.8"/>
<circle cx="865.1" cy="395.6" r="1.3"/>
<circle cx="865.1" cy="365" r="1.0"/>
<circle cx="865.1" cy="368.4" r="1.0"/>
<circle cx="865.1" cy="371.8" r="1.0"/>
<circle cx="865.1" cy="375.2" r="1.0"/>
<circle cx="865.1" cy="378.6" r="1.0"/>
<circle cx="865.1" cy="382.0" r="1.0"/>
<circle cx="865.1" cy="385.4" r="1.0"/>
<circle cx="865.1" cy="388.8" r="1.0"/>
<circle cx="865.1" cy="392.2" r="1.0"/>
<circle cx="865.1" cy="395.6" r="1.0"/>
<circle cx="865.1" cy="405" r="3.0"/>
<circle cx="865.1" cy="405" r="1.3"/>
<circle cx="865.1" cy="408.4" r="3.0"/>
<circle cx="865.1" cy="408.4" r="1.3"/>
<circle cx="865.1" cy="411.8" r="3.0"/>
<circle cx="865.1" cy="411.8" r="1.3"/>
<circle cx="865.1" cy="405" r="1.2"/>
<circle cx="865.1" cy="408.4" r="1.2"/>
<circle cx="865.1" cy="411.8" r="1.2"/>
<circle cx="865.1" cy="416" r="1.9"/>
<circle cx="865.1" cy="416" r="0.9"/>
<circle cx="865.1" cy="419.5" r="1.9"/>
<circle cx="865.1" cy="419.5" r="0.9"/>
<circle cx="865.1" cy="423.0" r="1.9"/>
<circle cx="865.1" cy="423.0" r="0.9"/>
<circle cx="865.1" cy="426.5" r="1.9"/>
<circle cx="865.1" cy="426.5" r="0.9"/>
<circle cx="865.1" cy="430.0" r="1.9"/>
<circle cx="865.1" cy="430.0" r="0.9"/>
<circle cx="865.1" cy="433.5" r="1.9"/>
<circle cx="865.1" cy="433.5" r="0.9"/>
<circle cx="865.1" cy="437.0" r="1.9"/>
<circle cx="865.1" cy="437.0" r="0.9"/>
<circle cx="865.1" cy="440.5" r="1.9"/>
<circle cx="865.1" cy="440.5" r="0.9"/>
<circle cx="865.1" cy="322.5" r="3.6"/>
<circle cx="865.1" cy="340" r="6.3"/>
<circle cx="865.1" cy="340" r="4.3"/>
<circle cx="865.1" cy="340" r="2.3"/>
<circle cx="865.1" cy="349" r="5.8"/>
<circle cx="865.1" cy="349" r="3.3"/>
<circle cx="865.1" cy="359.5" r="7.3"/>
<circle cx="865.1" cy="359.5" r="4.6"/>
<circle cx="865.1" cy="359.5" r="2.3"/>
<circle cx="865.1" cy="375" r="6.3"/>
<circle cx="865.1" cy="400" r="6.3"/>
<circle cx="865.1" cy="400" r="4.3"/>
<circle cx="865.1" cy="400" r="2.3"/>
<circle cx="865.1" cy="399.4" r="21.6"/>
<circle cx="865.1" cy="418.5" r="24.4"/>
<circle cx="865.1" cy="423.75" r="6.3"/>
<circle cx="865.1" cy="446.25" r="3.8"/>
<circle cx="865.1" cy="446.25" r="1.8"/>
<circle cx="865.1" cy="460.6" r="15.1"/>
<circle cx="865.1" cy="460.6" r="8.8"/>
<circle cx="865.1" cy="460.6" r="6.3"/>
<circle cx="865.1" cy="460.6" r="1.9"/>
<circle cx="865.1" cy="478.5" r="10.0"/>
<circle cx="865.1" cy="476.9" r="3.8"/>
<circle cx="865.1" cy="473" r="1.9"/>
<circle cx="865.1" cy="476.9" r="1.9"/>
<circle cx="865.1" cy="491.25" r="1.9"/>
<circle cx="865.1" cy="496.25" r="1.9"/>
<circle cx="865.1" cy="500" r="1.9"/>
<circle cx="865.1" cy="509.75" r="8.3"/>
<circle cx="865.1" cy="508.75" r="1.9"/>
<circle cx="865.1" cy="508.75" r="0.8"/>
<circle cx="865.1" cy="512.5" r="1.9"/>
<circle cx="865.1" cy="517" r="1.9"/>
<circle cx="865.1" cy="534.4" r="15.7"/>
<circle cx="865.1" cy="524.6" r="1.9"/>
<circle cx="865.1" cy="536" r="1.9"/>
<circle cx="865.1" cy="540.4" r="2.5"/>
<circle cx="865.1" cy="545.25" r="1.9"/>
<circle cx="865.1" cy="552.5" r="1.9"/>
<circle cx="865.1" cy="556" r="1.9"/>
<circle cx="865.1" cy="556" r="0.8"/>
<circle cx="865.1" cy="564.9" r="12.2"/>
<circle cx="865.1" cy="583.5" r="4.0"/>
<circle cx="865.1" cy="582" r="1.9"/>
<circle cx="865.1" cy="590.6" r="1.9"/>
<circle cx="865.1" cy="609.6" r="17.8"/>
<circle cx="865.1" cy="611.5" r="1.9"/>
<circle cx="865.1" cy="694.5" r="1.9"/>
<circle cx="916.06" cy="40.25" r="1.9"/>
<circle cx="916.06" cy="67.1" r="1.9"/>
<circle cx="916.06" cy="75.4" r="3.8"/>
<circle cx="916.06" cy="86.25" r="3.1"/>
<circle cx="916.06" cy="108.1" r="5.3"/>
<circle cx="916.06" cy="109.3" r="2.1"/>
<circle cx="916.06" cy="137.25" r="1.9"/>
<circle cx="916.06" cy="148.75" r="1.9"/>
<circle cx="916.06" cy="162.9" r="13.2"/>
<circle cx="916.06" cy="160.9" r="3.8"/>
<circle cx="916.06" cy="174.4" r="6.9"/>
<circle cx="916.06" cy="185.4" r="3.8"/>
<circle cx="916.06" cy="192.1" r="1.9"/>
<circle cx="916.06" cy="196.25" r="2.5"/>
<circle cx="916.06" cy="202.5" r="1.9"/>
<circle cx="916.06" cy="216.5" r="7.7"/>
<circle cx="916.06" cy="212.5" r="1.9"/>
<circle cx="916.06" cy="218.1" r="1.9"/>
<circle cx="916.06" cy="226.25" r="2.6"/>
<circle cx="916.06" cy="226.25" r="1"/>
<circle cx="916.06" cy="235.6" r="5.7"/>
<circle cx="916.06" cy="241.5" r="4.3"/>
<circle cx="916.06" cy="241.5" r="2.8"/>
<circle cx="916.06" cy="241.5" r="1.3"/>
<circle cx="916.06" cy="259.4" r="7.4"/>
<circle cx="916.06" cy="259.4" r="6.1"/>
<circle cx="916.06" cy="259.4" r="4.8"/>
<circle cx="916.06" cy="258.75" r="3.1"/>
<circle cx="916.06" cy="261.9" r="1.9"/>
<circle cx="916.06" cy="272.75" r="6.6"/>
<circle cx="916.06" cy="281.9" r="1.9"/>
<circle cx="916.06" cy="292.5" r="5.0"/>
<circle cx="916.06" cy="292.5" r="3.3"/>
<circle cx="916.06" cy="292.5" r="1.6"/>
<circle cx="916.06" cy="303.75" r="4.0"/>
<circle cx="916.06" cy="311.9" r="3.1"/>
<circle cx="916.06" cy="311.9" r="1.3"/>
<circle cx="916.06" cy="316.9" r="1.9"/>
<circle cx="916.06" cy="325.6" r="4.8"/>
<circle cx="916.06" cy="325.6" r="2.8"/>
<circle cx="916.06" cy="325.6" r="1"/>
<circle cx="916.06" cy="330" r="4.4"/>
<circle cx="916.06" cy="333.4" r="4.4"/>
<circle cx="916.06" cy="336.8" r="4.4"/>
<circle cx="916.06" cy="340.2" r="4.4"/>
<circle cx="916.06" cy="343.6" r="4.4"/>
<circle cx="916.06" cy="347.0" r="4.4"/>
<circle cx="916.06" cy="330" r="2.4"/>
<circle cx="916.06" cy="330" r="0.9"/>
<circle cx="916.06" cy="333.4" r="2.4"/>
<circle cx="916.06" cy="333.4" r="0.9"/>
<circle cx="916.06" cy="336.8" r="2.4"/>
<circle cx="916.06" cy="336.8" r="0.9"/>
<circle cx="916.06" cy="340.2" r="2.4"/>
<circle cx="916.06" cy="340.2" r="0.9"/>
<circle cx="916.06" cy="343.6" r="2.4"/>
<circle cx="916.06" cy="343.6" r="0.9"/>
<circle cx="916.06" cy="347.0" r="2.4"/>
<circle cx="916.06" cy="347.0" r="0.9"/>
<circle cx="916.06" cy="330" r="0.9"/>
<circle cx="916.06" cy="333.4" r="0.9"/>
<circle cx="916.06" cy="336.8" r="0.9"/>
<circle cx="916.06" cy="340.2" r="0.9"/>
<circle cx="916.06" cy="343.6" r="0.9"/>
<circle cx="916.06" cy="347.0" r="0.9"/>
<circle cx="916.06" cy="352.8" r="6.3"/>
<circle cx="916.06" cy="352.8" r="4.3"/>
<circle cx="916.06" cy="352.8" r="2.3"/>
<circle cx="916.06" cy="352.8" r="0.8"/>
<circle cx="916.06" cy="360" r="3.6"/>
<circle cx="916.06" cy="360" r="1.6"/>
<circle cx="916.06" cy="365" r="2.7"/>
<circle cx="916.06" cy="365" r="1"/>
<circle cx="916.06" cy="369" r="2.1"/>
<circle cx="916.06" cy="373.1" r="2.5"/>
<circle cx="916.06" cy="375" r="14.4"/>
<circle cx="916.06" cy="383.75" r="4.8"/>
<circle cx="916.06" cy="383.75" r="2.8"/>
<circle cx="916.06" cy="383.75" r="1.2"/>
<circle cx="916.06" cy="391.9" r="4.8"/>
<circle cx="916.06" cy="391.9" r="2.8"/>
<circle cx="916.06" cy="391.9" r="1.2"/>
<circle cx="916.06" cy="403.1" r="4.8"/>
<circle cx="916.06" cy="403.1" r="3.3"/>
<circle cx="916.06" cy="403.1" r="1.6"/>
<circle cx="916.06" cy="410" r="12.6"/>
<circle cx="916.06" cy="432.5" r="21.9"/>
<circle cx="916.06" cy="425" r="4.8"/>
<circle cx="916.06" cy="408" r="2.4"/>
<circle cx="916.06" cy="408" r="0.9"/>
<circle cx="916.06" cy="411.5" r="2.4"/>
<circle cx="916.06" cy="411.5" r="0.9"/>
<circle cx="916.06" cy="415.0" r="2.4"/>
<circle cx="916.06" cy="415.0" r="0.9"/>
<circle cx="916.06" cy="418.5" r="2.4"/>
<circle cx="916.06" cy="418.5" r="0.9"/>
<circle cx="916.06" cy="408" r="1"/>
<circle cx="916.06" cy="411.5" r="1"/>
<circle cx="916.06" cy="415.0" r="1"/>
<circle cx="916.06" cy="418.5" r="1"/>
<circle cx="916.06" cy="430" r="1.9"/>
<circle cx="916.06" cy="430" r="0.9"/>
<circle cx="916.06" cy="433.5" r="1.9"/>
<circle cx="916.06" cy="433.5" r="0.9"/>
<circle cx="916.06" cy="437.0" r="1.9"/>
<circle cx="916.06" cy="437.0" r="0.9"/>
<circle cx="916.06" cy="440.5" r="1.9"/>
<circle cx="916.06" cy="440.5" r="0.9"/>
<circle cx="916.06" cy="444" r="2.2"/>
<circle cx="916.06" cy="444" r="0.9"/>
<circle cx="916.06" cy="447.5" r="2.2"/>
<circle cx="916.06" cy="447.5" r="0.9"/>
<circle cx="916.06" cy="451.0" r="2.2"/>
<circle cx="916.06" cy="451.0" r="0.9"/>
<circle cx="916.06" cy="454.5" r="2.2"/>
<circle cx="916.06" cy="454.5" r="0.9"/>
<circle cx="916.06" cy="458.0" r="2.2"/>
<circle cx="916.06" cy="458.0" r="0.9"/>
<circle cx="916.06" cy="447.5" r="10.7"/>
<circle cx="916.06" cy="450.5" r="9.0"/>
<circle cx="916.06" cy="451.25" r="4.3"/>
<circle cx="916.06" cy="451.25" r="2.3"/>
<circle cx="916.06" cy="451.25" r="1"/>
<circle cx="916.06" cy="476.9" r="14.1"/>
<circle cx="916.06" cy="482.2" r="21.8"/>
<circle cx="916.06" cy="489" r="21.8"/>
<circle cx="916.06" cy="501.25" r="4.4"/>
<circle cx="916.06" cy="501.25" r="1.9"/>
<circle cx="916.06" cy="505.6" r="1.9"/>
<circle cx="916.06" cy="511.9" r="1.9"/>
<circle cx="916.06" cy="546.9" r="7.1"/>
<circle cx="916.06" cy="547.25" r="1.9"/>
<circle cx="916.06" cy="598" r="3.8"/>
<circle cx="966.11" cy="58.1" r="1.9"/>
<circle cx="966.11" cy="69" r="3.0"/>
<circle cx="966.11" cy="78.6" r="1.9"/>
<circle cx="966.11" cy="106.6" r="1.9"/>
<circle cx="966.11" cy="120.75" r="1.9"/>
<circle cx="966.11" cy="175.6" r="10.2"/>
<circle cx="966.11" cy="166.25" r="1.9"/>
<circle cx="966.11" cy="175.6" r="1.9"/>
<circle cx="966.11" cy="180.6" r="2.5"/>
<circle cx="966.11" cy="192.25" r="1.9"/>
<circle cx="966.11" cy="209.4" r="6.0"/>
<circle cx="966.11" cy="224.75" r="8.4"/>
<circle cx="966.11" cy="230.6" r="1.9"/>
<circle cx="966.11" cy="235.25" r="2.6"/>
<circle cx="966.11" cy="245.6" r="3.8"/>
<circle cx="966.11" cy="251.25" r="5.0"/>
<circle cx="966.11" cy="248.75" r="1.9"/>
<circle cx="966.11" cy="253" r="1.9"/>
<circle cx="966.11" cy="261.9" r="4.3"/>
<circle cx="966.11" cy="261.9" r="2.3"/>
<circle cx="966.11" cy="271.5" r="1.9"/>
<circle cx="966.11" cy="280.4" r="1.9"/>
<circle cx="966.11" cy="288.75" r="2.8"/>
<circle cx="966.11" cy="288.75" r="1"/>
<circle cx="966.11" cy="292" r="2.6"/>
<circle cx="966.11" cy="292" r="1.3"/>
<circle cx="966.11" cy="295.5" r="2.6"/>
<circle cx="966.11" cy="295.5" r="1.3"/>
<circle cx="966.11" cy="299.0" r="2.6"/>
<circle cx="966.11" cy="299.0" r="1.3"/>
<circle cx="966.11" cy="302.5" r="2.6"/>
<circle cx="966.11" cy="302.5" r="1.3"/>
<circle cx="966.11" cy="306.0" r="2.6"/>
<circle cx="966.11" cy="306.0" r="1.3"/>
<circle cx="966.11" cy="309.5" r="2.6"/>
<circle cx="966.11" cy="309.5" r="1.3"/>
<circle cx="966.11" cy="313.0" r="2.6"/>
<circle cx="966.11" cy="313.0" r="1.3"/>
<circle cx="966.11" cy="316.5" r="2.6"/>
<circle cx="966.11" cy="316.5" r="1.3"/>
<circle cx="966.11" cy="320.0" r="2.6"/>
<circle cx="966.11" cy="320.0" r="1.3"/>
<circle cx="966.11" cy="323.5" r="2.6"/>
<circle cx="966.11" cy="323.5" r="1.3"/>
<circle cx="966.11" cy="327.0" r="2.6"/>
<circle cx="966.11" cy="327.0" r="1.3"/>
<circle cx="966.11" cy="330.5" r="2.6"/>
<circle cx="966.11" cy="330.5" r="1.3"/>
<circle cx="966.11" cy="334.0" r="2.6"/>
<circle cx="966.11" cy="334.0" r="1.3"/>
<circle cx="966.11" cy="292" r="1.2"/>
<circle cx="966.11" cy="295.5" r="1.2"/>
<circle cx="966.11" cy="299.0" r="1.2"/>
<circle cx="966.11" cy="302.5" r="1.2"/>
<circle cx="966.11" cy="306.0" r="1.2"/>
<circle cx="966.11" cy="309.5" r="1.2"/>
<circle cx="966.11" cy="313.0" r="1.2"/>
<circle cx="966.11" cy="316.5" r="1.2"/>
<circle cx="966.11" cy="320.0" r="1.2"/>
<circle cx="966.11" cy="323.5" r="1.2"/>
<circle cx="966.11" cy="327.0" r="1.2"/>
<circle cx="966.11" cy="330.5" r="1.2"/>
<circle cx="966.11" cy="334.0" r="1.2"/>
<circle cx="966.11" cy="306.25" r="7.55"/>
<circle cx="966.11" cy="311.25" r="8.9"/>
<circle cx="966.11" cy="326.25" r="3.8"/>
<circle cx="966.11" cy="346.9" r="4.2"/>
<circle cx="966.11" cy="348" r="2.1"/>
<circle cx="966.11" cy="357.25" r="5.0"/>
<circle cx="966.11" cy="357.25" r="3.3"/>
<circle cx="966.11" cy="357.25" r="1.6"/>
<circle cx="966.11" cy="373.6" r="1.9"/>
<circle cx="966.11" cy="378.75" r="1.9"/>
<circle cx="966.11" cy="380" r="1.9"/>
<circle cx="966.11" cy="385" r="4.3"/>
<circle cx="966.11" cy="385" r="2.8"/>
<circle cx="966.11" cy="385" r="1.3"/>
<circle cx="966.11" cy="390" r="1.9"/>
<circle cx="966.11" cy="393" r="1.9"/>
<circle cx="966.11" cy="401.25" r="1.9"/>
<circle cx="966.11" cy="405" r="2.8"/>
<circle cx="966.11" cy="405" r="1.2"/>
<circle cx="966.11" cy="414.4" r="14.55"/>
<circle cx="966.11" cy="431.25" r="14.55"/>
<circle cx="966.11" cy="420" r="1.9"/>
<circle cx="966.11" cy="423.75" r="1.9"/>
<circle cx="966.11" cy="427.5" r="1.9"/>
<circle cx="966.11" cy="431.9" r="5.0"/>
<circle cx="966.11" cy="463.1" r="24.2"/>
<circle cx="966.11" cy="463.1" r="18.5"/>
<circle cx="966.11" cy="463.1" r="12.9"/>
<circle cx="966.11" cy="441.9" r="1.9"/>
<circle cx="966.11" cy="448" r="1.9"/>
<circle cx="966.11" cy="474.4" r="1.9"/>
<circle cx="966.11" cy="496" r="10.9"/>
<circle cx="966.11" cy="491.5" r="1.9"/>
<circle cx="966.11" cy="519" r="17.7"/>
<circle cx="966.11" cy="514" r="1.9"/>
<circle cx="966.11" cy="518.5" r="1.9"/>
<circle cx="966.11" cy="543.75" r="1.9"/>
<circle cx="966.11" cy="565.6" r="16.8"/>
<circle cx="966.11" cy="642.25" r="10.2"/>
<circle cx="966.11" cy="666.4" r="1.9"/>
<circle cx="966.11" cy="740.6" r="1.9"/>
</g>
<line id="trend" x1="108" y1="730" x2="1016.5" y2="317.3" stroke="#000" stroke-opacity="0.42" stroke-width="2.6"/>
<g id="legend">
<rect x="117" y="4" width="185.4" height="175.4" fill="#fff"/>
<text x="121.3" y="23.9" font-size="16.6" textLength="180.2" lengthAdjust="spacing" fill="#4a4a4a" stroke="#4a4a4a" stroke-width="0.4">Installed capacity [MWp]</text>
<defs>
<clipPath id="k0"><rect x="100" y="28.4" width="120" height="22.8"/></clipPath>
<clipPath id="k1"><rect x="100" y="53.8" width="120" height="22.8"/></clipPath>
<clipPath id="k2"><rect x="100" y="79.3" width="120" height="22.8"/></clipPath>
<clipPath id="k3"><rect x="100" y="104.8" width="120" height="22.8"/></clipPath>
<clipPath id="k4"><rect x="100" y="130.3" width="120" height="22.8"/></clipPath>
<clipPath id="k5"><rect x="100" y="155.8" width="120" height="22.8"/></clipPath>
</defs>
<circle cx="150.6" cy="39.8" r="2.2" fill="#b5b5b5"/>
<text class="lg" x="223.5" y="46.2" text-anchor="end">0.0</text>
<circle cx="150.6" cy="65.2" r="11" fill="#d9d9d9" stroke="#b0b0b0" stroke-width="2" clip-path="url(#k1)"/>
<text class="lg" x="223.5" y="71.6" text-anchor="end">50.0</text>
<circle cx="150.6" cy="90.7" r="16" fill="#d9d9d9" stroke="#b0b0b0" stroke-width="2" clip-path="url(#k2)"/>
<text class="lg" x="223.5" y="97.1" text-anchor="end">100.0</text>
<circle cx="150.6" cy="116.2" r="19.7" fill="#d9d9d9" stroke="#b0b0b0" stroke-width="2" clip-path="url(#k3)"/>
<text class="lg" x="223.5" y="122.6" text-anchor="end">150.0</text>
<circle cx="150.6" cy="141.7" r="22.8" fill="#d9d9d9" stroke="#b0b0b0" stroke-width="2" clip-path="url(#k4)"/>
<text class="lg" x="223.5" y="148.1" text-anchor="end">200.0</text>
<circle cx="150.6" cy="167.2" r="25.8" fill="#d9d9d9" stroke="#b0b0b0" stroke-width="2" clip-path="url(#k5)"/>
<text class="lg" x="223.5" y="173.6" text-anchor="end">250.0</text>
</g>
</svg></body></html>
